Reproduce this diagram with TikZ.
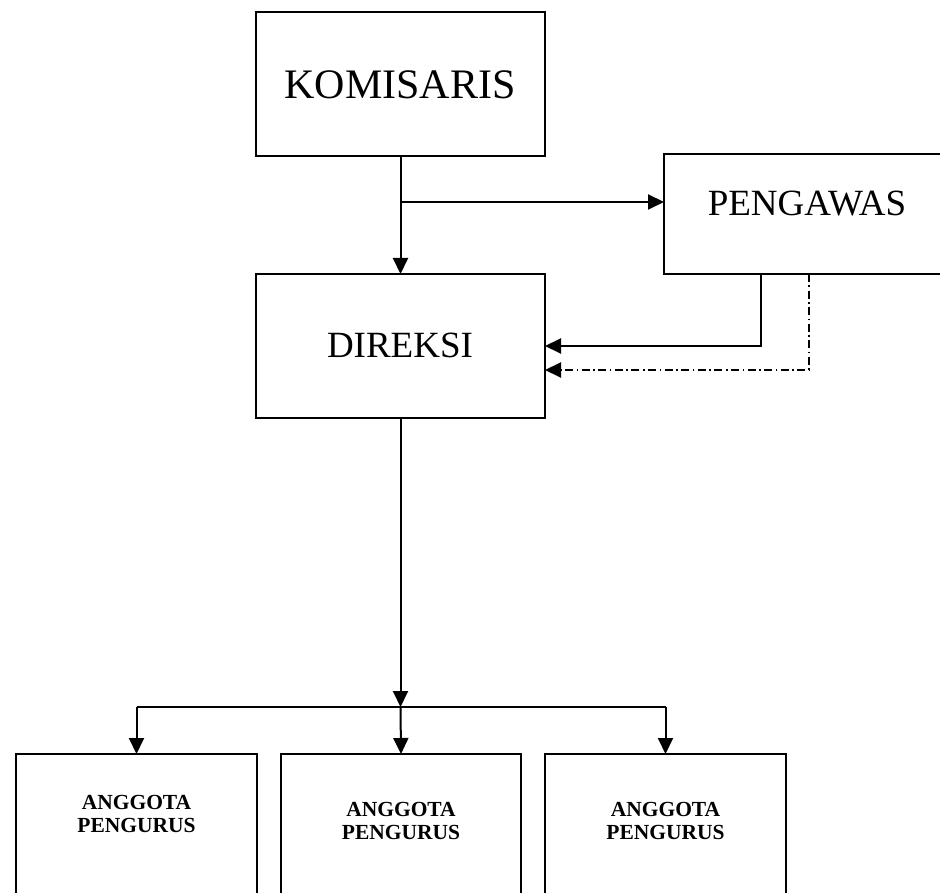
\documentclass[tikz,border=0pt]{standalone}
\usepackage{fontspec}
\setmainfont{Liberation Serif}
\usetikzlibrary{arrows.meta,calc}
\begin{document}
\begin{tikzpicture}[x=1pt,y=-1pt,
  box/.style={draw,line width=2pt,inner sep=0pt,outer sep=0pt,rectangle},
  conn/.style={line width=2pt},
  arr/.style={conn,-{Triangle[length=16pt,width=15pt]}},
  dashdotline/.style={line width=2pt,dash pattern=on 8pt off 3.5pt on 1.6pt off 3.5pt},
  bigtxt/.style={font=\fontsize{42}{48}\selectfont,inner sep=0pt},
  midtxt/.style={font=\fontsize{37}{42}\selectfont,inner sep=0pt},
  smalltxt/.style={font=\fontsize{21.5}{23}\selectfont\bfseries,align=center,inner sep=0pt}]
\useasboundingbox (0,0) rectangle (940,893);
\clip (0,0) rectangle (940,893);
% boxes
\node[box,minimum width=289pt,minimum height=144pt] (kom) at (400.5,84) {};
\node[box,minimum width=296pt,minimum height=120pt] (peng) at (812,214) {};
\node[box,minimum width=289pt,minimum height=144pt] (dir) at (400.5,346) {};
\node[box,minimum width=241pt,minimum height=151pt] (a1) at (136.5,829.5) {};
\node[box,minimum width=240pt,minimum height=151pt] (a2) at (401,829.5) {};
\node[box,minimum width=241pt,minimum height=151pt] (a3) at (665.5,829.5) {};
% texts
\node[bigtxt] (tkom) at (400,85) {KOMISARIS};
\node[midtxt] (tpeng) at (807,204) {PENGAWAS};
\node[midtxt] (tdir) at (400,345) {DIREKSI};
\node[smalltxt] (ta1) at (136.5,814) {ANGGOTA\\PENGURUS};
\node[smalltxt] (ta2) at (401,821) {ANGGOTA\\PENGURUS};
\node[smalltxt] (ta3) at (665.5,821) {ANGGOTA\\PENGURUS};
% connectors
\draw[arr] (kom.south) -- (dir.north);
\coordinate (b1) at (400.5,202);
\draw[arr] (b1) -- (b1 -| peng.west);
\coordinate (p1) at ($(peng.south west)+(97,0)$);
\coordinate (p2) at ($(peng.south west)+(145,0)$);
\coordinate (d2) at ($(dir.east)+(0,24)$);
\draw[arr] (p1) |- (dir.east);
\draw[dashdotline] (p2) |- ($(d2)+(14,0)$);
\draw[arr] ($(d2)+(15,0)$) -- (d2);
\coordinate (j) at (400.5,707);
\draw[arr] (dir.south) -- (j);
\draw[conn] (a1.north |- j) -- (a3.north |- j);
\draw[arr] (a1.north |- j) -- (a1.north);
\draw[arr] (j) -- (a2.north);
\draw[arr] (a3.north |- j) -- (a3.north);
\end{tikzpicture}
\end{document}
